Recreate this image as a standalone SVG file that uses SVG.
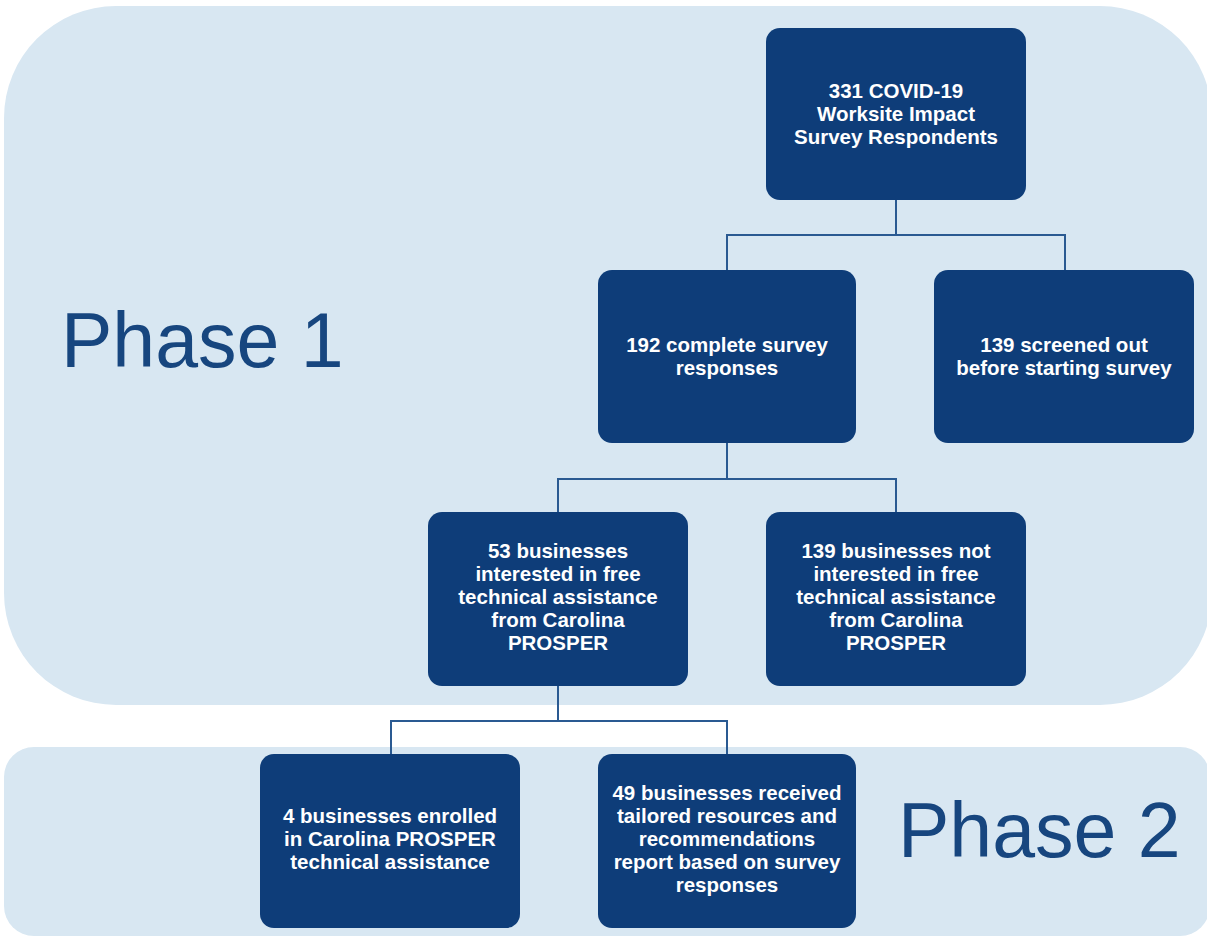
<svg xmlns="http://www.w3.org/2000/svg" width="1207" height="937" viewBox="0 0 1207 937">
<style>
.bg{fill:#d8e7f2}
.phase{font-family:"Liberation Sans",Arial,sans-serif;font-size:77px;fill:#17467f}
.box{fill:#0e3d79}
.lbl{font-family:"Liberation Sans",Arial,sans-serif;font-size:20.5px;font-weight:bold;fill:#ffffff;text-anchor:middle}
.conn{fill:none;stroke:#2a5a92;stroke-width:2}
</style>
<rect width="1207" height="937" fill="#ffffff"/>
<g id="phase1">
<rect class="bg" x="4" y="6" width="1208" height="699" rx="112" ry="112"/>
<text class="phase" x="61" y="367">Phase 1</text>
</g>
<g id="phase2">
<rect class="bg" x="4" y="747" width="1206" height="189" rx="30" ry="30"/>
<text class="phase" x="898" y="857">Phase 2</text>
</g>
<g id="connectors">
<polyline class="conn" points="896,200 896,235"/>
<polyline class="conn" points="727,270 727,235 1065,235 1065,270"/>
<polyline class="conn" points="727,443 727,479"/>
<polyline class="conn" points="558,512 558,479 896,479 896,512"/>
<polyline class="conn" points="558,686 558,721"/>
<polyline class="conn" points="391,754 391,721 727,721 727,754"/>
</g>
<g id="n1">
<rect class="box" x="766" y="28" width="260" height="172" rx="14"/>
<text class="lbl" x="896" y="98">331 COVID-19</text>
<text class="lbl" x="896" y="121">Worksite Impact</text>
<text class="lbl" x="896" y="144">Survey Respondents</text>
</g>
<g id="n2">
<rect class="box" x="598" y="270" width="258" height="173" rx="14"/>
<text class="lbl" x="727" y="352">192 complete survey</text>
<text class="lbl" x="727" y="375">responses</text>
</g>
<g id="n3">
<rect class="box" x="934" y="270" width="260" height="173" rx="14"/>
<text class="lbl" x="1064" y="352">139 screened out</text>
<text class="lbl" x="1064" y="375">before starting survey</text>
</g>
<g id="n4">
<rect class="box" x="428" y="512" width="260" height="174" rx="14"/>
<text class="lbl" x="558" y="558">53 businesses</text>
<text class="lbl" x="558" y="581">interested in free</text>
<text class="lbl" x="558" y="604">technical assistance</text>
<text class="lbl" x="558" y="627">from Carolina</text>
<text class="lbl" x="558" y="650">PROSPER</text>
</g>
<g id="n5">
<rect class="box" x="766" y="512" width="260" height="174" rx="14"/>
<text class="lbl" x="896" y="558">139 businesses not</text>
<text class="lbl" x="896" y="581">interested in free</text>
<text class="lbl" x="896" y="604">technical assistance</text>
<text class="lbl" x="896" y="627">from Carolina</text>
<text class="lbl" x="896" y="650">PROSPER</text>
</g>
<g id="n6">
<rect class="box" x="260" y="754" width="260" height="174" rx="14"/>
<text class="lbl" x="390" y="823">4 businesses enrolled</text>
<text class="lbl" x="390" y="846">in Carolina PROSPER</text>
<text class="lbl" x="390" y="869">technical assistance</text>
</g>
<g id="n7">
<rect class="box" x="598" y="754" width="258" height="174" rx="14"/>
<text class="lbl" x="727" y="800">49 businesses received</text>
<text class="lbl" x="727" y="823">tailored resources and</text>
<text class="lbl" x="727" y="846">recommendations</text>
<text class="lbl" x="727" y="869">report based on survey</text>
<text class="lbl" x="727" y="892">responses</text>
</g>
</svg>
